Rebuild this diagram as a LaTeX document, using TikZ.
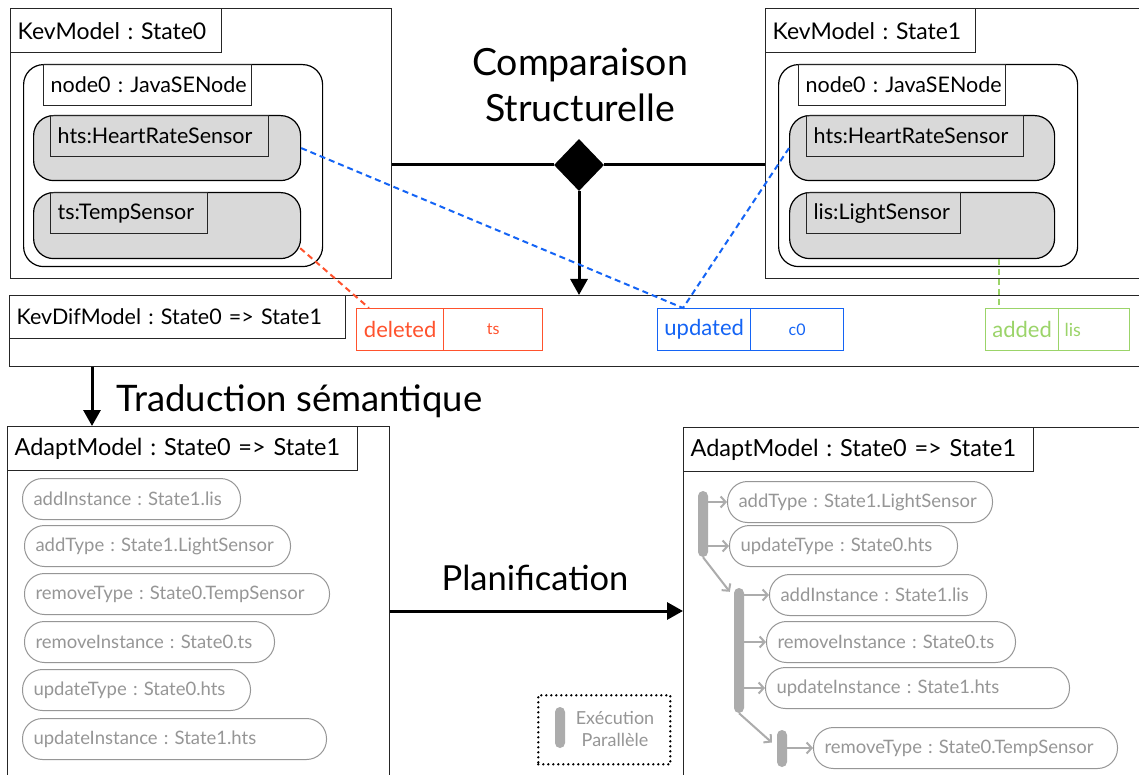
\documentclass[tikz,border=0pt]{standalone}
\usepackage{fontspec}
\setmainfont{Lato}
\frenchspacing
\usetikzlibrary{arrows.meta,calc,shapes.geometric}
\definecolor{boxgray}{RGB}{217,217,217}
\definecolor{pillgray}{RGB}{150,150,150}
\definecolor{txtgray}{RGB}{150,150,150}
\definecolor{bargray}{RGB}{172,172,172}
\definecolor{delred}{RGB}{255,82,45}
\definecolor{updblue}{RGB}{20,100,245}
\definecolor{addgreen}{RGB}{155,212,105}
\begin{document}
\frenchspacing
\begin{tikzpicture}[x=1pt,y=-1pt,
 frm/.style={draw=black!85, line width=1.4pt, inner sep=0pt, anchor=north west},
 ttl/.style={draw=black!85, line width=1.3pt, anchor=north west, inner xsep=7pt, inner ysep=0pt, align=left},
 cont/.style={draw=black, line width=1.2pt, rounded corners=20pt, anchor=north west, inner sep=0pt},
 gcont/.style={cont, fill=boxgray},
 cell/.style={anchor=north west, line width=1.3pt, inner sep=0pt, minimum height=42pt},
 pill/.style={draw=pillgray, line width=1pt, rounded corners=20pt, anchor=north west, text=txtgray, inner xsep=11pt, inner ysep=0pt, align=left, minimum height=41pt, font=\fontsize{18.5}{20}\selectfont},
 bar/.style={fill=bargray, rounded corners=5pt, minimum width=10pt, inner sep=0pt},
 garrow/.style={draw=bargray, line width=2pt, -{Straight Barb[length=5pt,width=11pt]}},
 bigarrow/.style={line width=3pt, -{Triangle[length=16pt,width=17pt]}},
 fK/.style={font=\fontsize{23}{26}\selectfont},
 fS/.style={font=\fontsize{21.5}{24}\selectfont},
 fA/.style={font=\fontsize{23.5}{28}\selectfont},
 fBig/.style={font=\fontsize{37.5}{40}\selectfont},
]
\fill[white] (0,0) rectangle (1139,775);
\useasboundingbox (0,0) rectangle (1139,775);

% ---- KevModel State0
\node[frm, minimum width=381pt, minimum height=270pt] (k0) at (10,8) {};
\node[ttl, fK, text width=197pt, minimum height=44pt] (k0t) at (10,8) {\mbox{KevModel : State0}};
\node[cont, minimum width=299pt, minimum height=202pt] (n0) at (23,64) {};
\node[ttl, fS, text width=194pt, minimum height=41pt] (n0t) at (43,64) {\mbox{node0 : JavaSENode}};
\node[gcont, minimum width=267pt, minimum height=65pt] (hts0) at (33,115) {};
\node[ttl, fS, text width=204pt, minimum height=41pt] (hts0t) at (50,115) {\mbox{hts:HeartRateSensor}};
\node[gcont, minimum width=267pt, minimum height=66pt] (ts0) at (33,192) {};
\node[ttl, fS, text width=143pt, minimum height=41pt] (ts0t) at (50,192) {\mbox{ts:TempSensor}};

% ---- KevModel State1
\node[frm, minimum width=390pt, minimum height=270pt] (k1) at (765,8) {};
\node[ttl, fK, text width=196pt, minimum height=44pt] (k1t) at (765,8) {\mbox{KevModel : State1}};
\node[cont, minimum width=299pt, minimum height=202pt] (n1) at (778,64) {};
\node[ttl, fS, text width=193pt, minimum height=41pt] (n1t) at (798,64) {\mbox{node0 : JavaSENode}};
\node[gcont, minimum width=265pt, minimum height=65pt] (hts1) at (789,115) {};
\node[ttl, fS, text width=203pt, minimum height=41pt] (hts1t) at (806,115) {\mbox{hts:HeartRateSensor}};
\node[gcont, minimum width=265pt, minimum height=66pt] (lis1) at (789,192) {};
\node[ttl, fS, text width=140pt, minimum height=41pt] (lis1t) at (806,192) {\mbox{lis:LightSensor}};

% ---- Comparaison structurelle
\node[fBig, anchor=base] (cmp1) at (580,76) {Comparaison};
\node[fBig, anchor=base] (cmp2) at (580,122) {Structurelle};
\node[diamond, fill=black, minimum width=50pt, minimum height=52pt, inner sep=0pt] (dia) at (579,165) {};
\draw[line width=3pt] (k0.east |- dia.center) -- (dia.west);
\draw[line width=3pt] (dia.east) -- (k1.west |- dia.center);

% ---- KevDifModel
\node[frm, minimum width=1150pt, minimum height=71pt] (dif) at (9,295) {};
\node[ttl, fS, text width=322pt, minimum height=43pt] (dift) at (9,295) {\mbox{KevDifModel : State0 => State1}};
\draw[bigarrow] (dia.south) -- (dia.south |- dif.north);

\node[cell, draw=delred, text=delred, fK, font=\fontsize{22}{24}\selectfont, minimum width=87pt] (del) at (356,308) {deleted};
\node[cell, draw=delred, text=delred, font=\fontsize{16}{18}\selectfont, minimum width=99pt] (delv) at (443,308) {ts};
\node[cell, draw=updblue, text=updblue, font=\fontsize{22}{24}\selectfont, minimum width=93pt] (upd) at (657,308) {updated};
\node[cell, draw=updblue, text=updblue, font=\fontsize{16}{18}\selectfont, minimum width=93pt] (updv) at (750,308) {c0};
\node[cell, draw=addgreen, text=addgreen, font=\fontsize{22}{24}\selectfont, minimum width=73pt] (add) at (985,308) {added};
\node[cell, draw=addgreen, text=addgreen, font=\fontsize{18}{20}\selectfont, minimum width=71pt, align=left, text width=59pt, inner xsep=6pt] (addv) at (1058,308) {lis};

\coordinate (updj) at ($(upd.north west)+(26,0)$);
\coordinate (delj) at ($(del.north west)+(13,0)$);
\coordinate (addj) at ($(add.north west)+(14,0)$);
\draw[updblue, line width=2pt, dash pattern=on 6pt off 4pt] (hts0.east) -- (updj) -- (hts1.west);
\draw[delred, line width=2pt, dash pattern=on 6pt off 4pt] ($(ts0.south east)+(-1,-11)$) -- (delj);
\draw[addgreen, line width=2pt, dash pattern=on 6pt off 4pt] (addj |- lis1.south) -- (addj);

% ---- AdaptModel left
\node[frm, minimum width=382pt, minimum height=370pt] (am0) at (7,426) {};
\node[ttl, fA, text width=336pt, minimum height=44pt] (am0t) at (7,426) {\mbox{AdaptModel : State0 => State1}};
\coordinate (trx) at (92,0);
\draw[bigarrow] (trx |- dif.south) -- (trx |- am0.north);
\node[font=\fontsize{36.5}{40}\selectfont, anchor=base west] (trad) at (113,411) {Traduction sémantique};

\node[pill, text width=196pt] (p1) at (22,478) {addInstance : State1.lis};
\node[pill, text width=244pt] (p2) at (24,525) {addType : State1.LightSensor};
\node[pill, text width=283pt] (p3) at (24,573) {removeType : State0.TempSensor};
\node[pill, text width=228pt] (p4) at (24,621) {removeInstance : State0.ts};
\node[pill, text width=206pt] (p5) at (22,669) {updateType : State0.hts};
\node[pill, text width=282pt] (p6) at (22,718) {updateInstance : State1.hts};

% ---- AdaptModel right
\node[frm, minimum width=470pt, minimum height=370pt] (am1) at (683,427) {};
\node[ttl, fA, text width=336pt, minimum height=44pt] (am1t) at (683,427) {\mbox{AdaptModel : State0 => State1}};

\node[font=\fontsize{34.5}{38}\selectfont, anchor=base] (plan) at (535,590) {Planification};
\coordinate (pl) at (0,611);
\draw[bigarrow] (pl -| am0.east) -- (pl -| am1.west);

\node[pill, text width=243pt] (pa) at (727,481) {addType : State1.LightSensor};
\node[pill, text width=206pt] (pb) at (729,525) {updateType : State0.hts};
\node[pill, text width=195pt] (pc) at (769,574) {addInstance : State1.lis};
\node[pill, text width=227pt] (pd) at (766,621) {removeInstance : State0.ts};
\node[pill, text width=282pt] (pe) at (765,667) {updateInstance : State1.hts};
\node[pill, text width=282pt] (pf) at (813,727) {removeType : State0.TempSensor};

\node[bar, minimum height=66pt] (b1) at (703,524) {};
\node[bar, minimum height=125pt] (b2) at (739,650.5) {};
\node[bar, minimum height=37pt] (b3) at (782,748.5) {};

\draw[garrow] (b1.east |- pa.west) -- (pa.west);
\draw[garrow] (b1.east |- pb.west) -- (pb.west);
\draw[garrow] (b2.east |- pc.west) -- (pc.west);
\draw[garrow] (b2.east |- pd.west) -- (pd.west);
\draw[garrow] (b2.east |- pe.west) -- (pe.west);
\draw[garrow] (b3.east |- pf.west) -- (pf.west);
\draw[garrow] (b1.south) -- ($(b2.north west)+(-4,4)$);
\draw[garrow] (b2.south) -- ($(b3.west)+(-5,-6)$);

% ---- legend
\node[draw=black, line width=2.6pt, dash pattern=on 0pt off 5pt, line cap=round, minimum width=132pt, minimum height=69pt, anchor=north west, inner sep=0pt] (leg) at (537,694) {};
\node[bar, minimum height=41pt] (legbar) at (560,727.5) {};
\node[text=txtgray, align=center, font=\fontsize{18}{22}\selectfont] (legtxt) at (615,729) {Exécution\\Parallèle};
\end{tikzpicture}
\end{document}
